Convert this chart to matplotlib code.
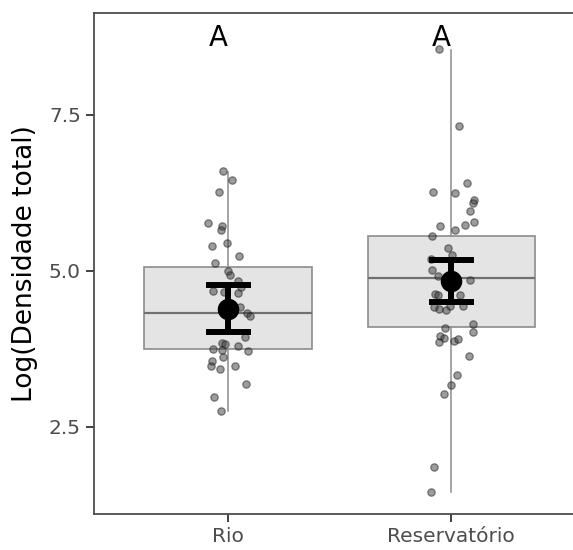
import matplotlib.pyplot as plt
import numpy as np

# Groups and box statistics (log total density)
groups = ['Rio', 'Reservatório']
q1 = [3.74, 4.09]
median = [4.32, 4.875]
q3 = [5.06, 5.56]
whisk_lo = [2.75, 1.445]
whisk_hi = [6.58, 8.53]

# Group means with error bars
means = [4.39, 4.83]
errors = [0.375, 0.34]

# Letters from the post-hoc test
letters = ['A', 'A']
letter_y = 8.73

# Raw observations and their horizontal jitter
rio_vals = [6.60, 6.45, 6.26, 5.76, 5.72, 5.65, 5.40, 5.45, 5.24, 5.12,
            5.00, 4.93, 4.84, 4.67, 4.66, 4.64, 4.74, 4.42, 4.32, 4.28,
            3.94, 3.84, 3.82, 3.79, 3.75, 3.73, 3.71, 3.61, 3.55, 3.47,
            3.42, 3.47, 3.18, 2.97, 2.75]
rio_jitter = [-0.022, 0.016, -0.040, -0.090, -0.029, -0.033, -0.073, -0.006, 0.049, -0.060,
              -0.002, 0.010, 0.045, -0.069, -0.020, 0.047, 0.057, 0.052, 0.085, 0.100,
              0.074, -0.026, -0.015, 0.043, -0.067, -0.027, 0.088, -0.024, -0.072, -0.076,
              -0.034, 0.030, 0.082, -0.063, -0.033]

res_vals = [8.55, 7.32, 6.40, 6.26, 6.25, 6.13, 6.08, 5.96, 5.78, 5.73,
            5.72, 5.65, 5.55, 5.37, 5.25, 5.18, 5.01, 4.91, 4.85, 4.62,
            4.61, 4.61, 4.41, 4.39, 4.37, 4.43, 4.44, 4.08, 4.14, 4.01,
            3.95, 3.92, 3.85, 3.87, 3.90, 3.63, 3.32, 3.17, 3.02, 1.86,
            1.45]
res_jitter = [-0.054, 0.033, 0.069, -0.082, 0.017, 0.100, 0.095, 0.082, 0.103, 0.060,
              -0.049, 0.018, -0.086, -0.015, 0.003, -0.091, -0.087, -0.060, 0.085, -0.075,
              -0.061, 0.037, -0.079, -0.057, -0.022, -0.008, 0.052, -0.027, 0.097, 0.097,
              -0.049, -0.034, -0.057, 0.013, 0.028, 0.079, 0.025, 0.0, -0.034, -0.079,
              -0.090]

fig = plt.figure(figsize=(5.73, 5.5), dpi=100)
ax = fig.add_axes([94 / 573, 1 - 514 / 550, 0.8574, 0.9109])

pos = np.arange(1, len(groups) + 1)

# Boxes built from the summary stats
stats = []
for i in range(len(groups)):
    stats.append({'med': median[i], 'q1': q1[i], 'q3': q3[i],
                  'whislo': whisk_lo[i], 'whishi': whisk_hi[i], 'fliers': []})
ax.bxp(stats, positions=pos, widths=0.75, patch_artist=True, showcaps=False,
       boxprops=dict(facecolor='#e4e4e4', edgecolor='#8c8c8c', linewidth=1.2),
       medianprops=dict(color='#707070', linewidth=1.6),
       whiskerprops=dict(color='#8c8c8c', linewidth=1.1), zorder=1)

# Jittered points
for p, vals, jit in zip(pos, [rio_vals, res_vals], [rio_jitter, res_jitter]):
    ax.scatter(p + np.array(jit), vals, s=28, c='#3a3a3a', alpha=0.5,
               edgecolors='#1a1a1a', linewidths=0.9, zorder=3)

# Mean +/- error
ax.errorbar(pos, means, yerr=errors, fmt='o', color='black', markersize=14.5,
            elinewidth=4.3, capsize=16.2, capthick=4.3, zorder=4)

for p, lab in zip(pos, letters):
    ax.text(p - 0.043, letter_y, lab, ha='center', va='center', fontsize=20, color='black')

ax.set_xlim(0.4, 2.6)
ax.set_ylim(1.10, 9.13)
ax.set_xticks(pos)
ax.set_xticklabels(groups)
ax.set_yticks([2.5, 5.0, 7.5])
ax.set_yticklabels(['2.5', '5.0', '7.5'])
ax.set_ylabel('Log(Densidade total)', fontsize=19, labelpad=8)
ax.tick_params(axis='both', labelsize=14.5, labelcolor='#4d4d4d', color='#333333',
               length=5.5, width=1.3, pad=4)
for sp in ax.spines.values():
    sp.set_color('#4d4d4d')
    sp.set_linewidth(1.3)
# the panel runs past the right edge of the figure
ax.spines['right'].set_visible(False)

fig.savefig('out.png', dpi=100)
